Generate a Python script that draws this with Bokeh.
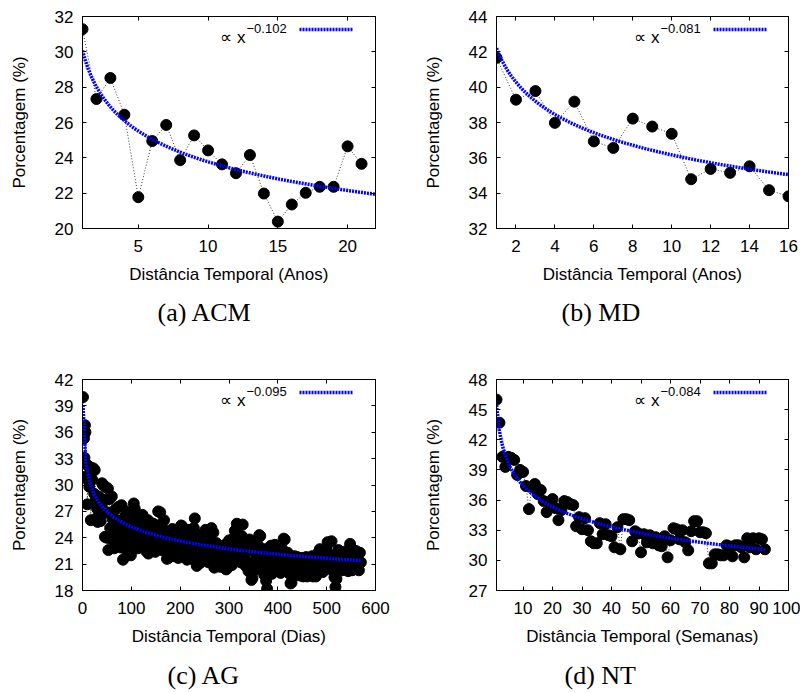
import numpy as np
from bokeh.plotting import figure
from bokeh.layouts import row, column
from bokeh.models import LinearAxis, FixedTicker, Label, Legend, LegendItem, Range1d, Title
from bokeh.core.properties import value
from bokeh.embed import file_html
from bokeh.resources import INLINE

# ---------------- data ----------------
# (a) ACM
acm_x = list(range(1, 22))
acm_pct = [31.28, 27.33, 28.52, 26.44, 21.77, 24.95, 25.86, 23.87, 25.27, 24.42,
           23.63, 23.13, 24.16, 21.98, 20.39, 21.36, 22.02, 22.36, 22.36, 24.65, 23.66]
acm_fit = (30.07, -0.102, 1, 22)          # coef, exponent (as drawn), x-start, x-end
acm_fit_label = "\u22120.102"
acm_xticks = [5, 10, 15, 20]
acm_yticks = [20, 22, 24, 26, 28, 30, 32]

# (b) MD
md_x = list(range(1, 17))
md_pct = [41.66, 39.29, 39.78, 37.98, 39.18, 36.93, 36.56, 38.22, 37.77, 37.36,
          34.79, 35.37, 35.15, 35.52, 34.17, 33.82]
md_fit = (42.2, -0.067, 1, 16)
md_fit_label = "\u22120.081"
md_xticks = [2, 4, 6, 8, 10, 12, 14, 16]
md_yticks = [32, 34, 36, 38, 40, 42, 44]

# (c) AG
ag_days = [1, 2, 3, 4, 5, 6, 7, 8, 9, 10,
           11, 13, 14, 16, 17, 18, 20, 22, 24, 25,
           27, 28, 30, 31, 33, 35, 37, 39, 40, 42,
           44, 46, 47, 49, 50, 52, 53, 55, 57, 58,
           60, 62, 63, 65, 67, 68, 70, 72, 73, 75,
           77, 78, 80, 82, 83, 85, 87, 88, 90, 92,
           94, 95, 97, 99, 100, 102, 104, 105, 107, 109,
           111, 113, 115, 117, 119, 121, 123, 124, 126, 128,
           130, 132, 134, 135, 137, 139, 141, 143, 145, 147,
           149, 151, 153, 155, 157, 159, 161, 163, 165, 167,
           169, 171, 173, 175, 176, 178, 180, 182, 184, 186,
           188, 190, 192, 194, 196, 198, 200, 202, 204, 206,
           208, 210, 212, 214, 216, 218, 220, 222, 224, 226,
           228, 230, 232, 234, 236, 238, 240, 242, 244, 246,
           248, 250, 252, 254, 256, 258, 260, 262, 264, 266,
           268, 270, 272, 274, 276, 278, 280, 282, 284, 286,
           288, 290, 292, 294, 296, 298, 300, 302, 304, 306,
           308, 310, 312, 314, 316, 318, 320, 322, 324, 326,
           328, 330, 332, 334, 336, 338, 340, 342, 344, 346,
           348, 350, 352, 354, 356, 358, 360, 362, 364, 366,
           368, 370, 372, 374, 376, 378, 380, 382, 384, 386,
           388, 390, 392, 394, 396, 398, 400, 402, 404, 406,
           408, 410, 412, 414, 416, 418, 420, 422, 424, 426,
           428, 430, 432, 434, 436, 438, 440, 442, 444, 446,
           448, 450, 452, 454, 456, 458, 460, 462, 464, 466,
           468, 470, 472, 474, 476, 478, 480, 482, 484, 486,
           488, 490, 492, 494, 496, 498, 500, 502, 504, 506,
           508, 510, 512, 514, 516, 518, 520, 522, 524, 526,
           528, 530, 532, 534, 536, 538, 540, 542, 544, 546,
           548, 550, 552, 554, 556, 558, 560, 562, 564, 566,
           568, 570]
ag_pct = [40.0, 35.6, 35.3, 33.1, 36.8, 36.0, 32.4, 31.0, 30.9, 27.8,
          32.2, 30.4, 29.8, 32.0, 26.0, 31.7, 30.6, 31.9, 29.0, 31.7,
          28.2, 26.2, 27.3, 25.8, 28.7, 26.5, 25.9, 27.5, 30.2, 30.0,
          28.3, 24.1, 29.8, 26.9, 24.0, 29.6, 22.6, 28.4, 25.1, 23.9,
          28.7, 26.1, 24.7, 22.8, 27.2, 25.6, 26.0, 23.8, 27.5, 24.9,
          27.6, 22.9, 27.7, 25.3, 21.5, 23.4, 26.4, 24.3, 27.0, 22.3,
          25.6, 23.7, 26.8, 22.0, 24.8, 26.4, 23.3, 27.9, 27.3, 24.6,
          25.8, 22.8, 26.1, 24.0, 25.2, 23.0, 26.6, 24.4, 25.5, 23.6,
          22.5, 24.9, 26.0, 22.2, 23.7, 25.1, 22.9, 24.3, 25.6, 23.4,
          22.4, 24.8, 25.3, 27.0, 23.1, 26.9, 24.0, 22.6, 25.0, 26.0,
          23.6, 24.6, 21.6, 23.2, 21.7, 24.3, 23.7, 22.4, 25.0, 23.0,
          21.9, 24.2, 22.8, 23.9, 21.7, 24.7, 22.5, 25.4, 25.3, 23.1,
          21.8, 24.1, 22.9, 21.5, 23.6, 24.9, 22.2, 23.4, 21.6, 24.0,
          25.1, 26.2, 24.5, 20.8, 22.7, 23.8, 21.1, 22.3, 24.2, 21.4,
          23.3, 22.0, 24.9, 23.0, 24.8, 21.2, 22.6, 23.9, 25.1, 22.1,
          24.6, 20.6, 21.8, 23.4, 22.5, 20.9, 22.9, 20.7, 21.6, 23.0,
          21.2, 22.4, 23.2, 20.4, 20.5, 22.2, 23.7, 21.3, 22.8, 20.9,
          23.9, 22.1, 24.8, 21.5, 25.6, 23.0, 25.4, 22.6, 21.2, 24.2,
          25.5, 22.0, 23.5, 20.8, 21.4, 22.9, 20.2, 23.8, 21.0, 19.2,
          19.4, 22.5, 20.3, 23.4, 21.7, 20.6, 23.1, 24.3, 24.2, 22.0,
          20.4, 21.6, 19.8, 22.7, 19.1, 18.2, 20.5, 22.2, 21.0, 23.1,
          19.9, 22.6, 20.8, 23.2, 21.5, 22.2, 20.3, 23.0, 21.9, 20.0,
          22.8, 21.2, 23.9, 23.8, 21.4, 20.3, 22.3, 21.0, 19.9, 18.8,
          18.9, 21.6, 20.2, 21.9, 20.8, 19.8, 21.8, 20.4, 21.3, 19.7,
          20.9, 21.7, 19.6, 19.7, 20.6, 21.8, 19.6, 20.2, 21.5, 19.7,
          20.8, 21.9, 19.6, 20.4, 21.2, 19.6, 19.9, 21.0, 22.4, 22.7,
          20.5, 21.6, 20.1, 22.3, 21.0, 20.4, 22.6, 23.5, 23.4, 21.3,
          20.7, 23.6, 21.9, 20.2, 19.5, 18.4, 19.3, 21.4, 22.6, 20.6,
          22.0, 21.2, 20.3, 22.4, 21.5, 20.6, 22.1, 21.0, 20.2, 22.7,
          23.3, 21.6, 20.3, 22.3, 20.4, 21.8, 22.5, 20.8, 21.4, 20.3,
          22.3, 21.2]
ag_fit = (39.1, -0.095, 1, 570)
ag_fit_label = "\u22120.095"
ag_xticks = [0, 100, 200, 300, 400, 500, 600]
ag_yticks = [18, 21, 24, 27, 30, 33, 36, 39, 42]

# (d) NT
nt_x = list(range(1, 93))
nt_pct = [46.0, 43.7, 40.3, 39.3, 40.3, 40.2, 40.0, 38.5, 39.0, 38.8,
          37.4, 35.1, 37.3, 37.6, 36.6, 37.0, 35.9, 34.8, 35.7, 36.1,
          35.2, 34.0, 35.0, 35.9, 35.8, 35.6, 35.5, 33.4, 34.3, 33.1,
          34.2, 33.0, 31.9, 31.7, 31.7, 33.7, 32.6, 33.6, 32.5, 32.4,
          31.3, 33.3, 31.1, 34.1, 34.1, 34.0, 31.9, 32.9, 32.7, 30.8,
          32.6, 31.8, 32.5, 31.7, 32.3, 31.5, 31.4, 32.4, 30.3, 32.0,
          33.2, 33.1, 32.1, 33.0, 31.8, 31.0, 32.9, 33.9, 33.9, 32.8,
          32.8, 32.7, 29.7, 29.7, 30.6, 30.6, 30.5, 30.5, 31.5, 31.4,
          30.4, 31.5, 31.5, 31.3, 30.3, 32.2, 31.3, 32.2, 31.1, 32.2,
          32.1, 31.1]
nt_fit = (45.44, -0.084, 1, 92)
nt_fit_label = "\u22120.084"
nt_xticks = [10, 20, 30, 40, 50, 60, 70, 80, 90, 100]
nt_yticks = [27, 30, 33, 36, 39, 42, 45, 48]

y_label = "Porcentagem (%)"

# ---------------- styling ----------------
SANS = "Liberation Sans"
SERIF = "Liberation Serif"
TXT = "17px"
FIT_COLOR = "#0000ff"


def style_axis(ax, ticks, labels=True):
    ax.ticker = FixedTicker(ticks=ticks)
    ax.major_tick_in = 4
    ax.major_tick_out = 0
    ax.minor_tick_line_color = None
    ax.axis_line_color = "black"
    ax.major_tick_line_color = "black"
    ax.major_label_text_font = SANS
    ax.axis_label_text_font = SANS
    ax.axis_label_text_font_size = TXT
    ax.axis_label_text_font_style = "normal"
    ax.axis_label_text_color = "black"
    if labels:
        ax.major_label_text_font_size = TXT
        ax.major_label_text_color = "black"
    else:
        ax.major_label_text_font_size = "1px"
        ax.major_label_text_color = None
        ax.major_label_standoff = 0


def panel(xs, ys, fit, fit_label, xr, yr, xticks, yticks, xlabel, caption,
          left, right, top, bottom, fw, fh, cap_offset, cap_standoff):
    p = figure(frame_width=fw, frame_height=fh,
               min_border_left=left, min_border_right=right,
               min_border_top=top, min_border_bottom=bottom,
               x_range=Range1d(*xr), y_range=Range1d(*yr),
               x_axis_label=xlabel, y_axis_label=y_label,
               output_backend="svg", toolbar_location=None,
               background_fill_color="white", border_fill_color="white")
    p.xgrid.visible = False
    p.ygrid.visible = False
    p.outline_line_color = "black"
    p.outline_line_width = 1
    p.outline_line_alpha = 1

    style_axis(p.xaxis[0], xticks)
    style_axis(p.yaxis[0], yticks)
    p.xaxis[0].major_label_standoff = 11
    p.xaxis[0].axis_label_standoff = 10
    p.yaxis[0].major_label_standoff = 9
    p.yaxis[0].axis_label_standoff = 23

    top_ax = LinearAxis()
    style_axis(top_ax, xticks, labels=False)
    p.add_layout(top_ax, "above")
    right_ax = LinearAxis()
    style_axis(right_ax, yticks, labels=False)
    p.add_layout(right_ax, "right")

    # caption below the x-axis label
    p.add_layout(Title(text=caption, align="left", offset=cap_offset, standoff=cap_standoff,
                       text_font=SERIF, text_font_size="26px", text_font_style="normal",
                       text_color="black"), "below")

    # data: points joined by a thin dotted line
    p.line(xs, ys, line_color="black", line_width=0.8, line_dash="1 2")
    p.scatter(xs, ys, size=11, marker="circle", fill_color="black", line_color="black")

    # power-law fit
    coef, expo, x0, x1 = fit
    fx = np.linspace(x0, x1, 100)
    fy = coef * fx ** expo
    fr = p.line(fx, fy, line_color=FIT_COLOR, line_width=3.5, line_dash="2 1")

    leg = Legend(items=[LegendItem(label=value(" "), renderers=[fr])],
                 location=(217, fh - 16), glyph_width=54, glyph_height=6,
                 label_text_font_size="1px", label_standoff=0, label_width=0,
                 label_height=0, padding=0, margin=0, spacing=0,
                 border_line_color=None, background_fill_alpha=0)
    p.add_layout(leg)

    p.add_layout(Label(x=163, y=fh - 21, x_units="screen", y_units="screen",
                       text="\u221d x", text_align="right", text_baseline="alphabetic",
                       text_font=SANS, text_font_size=TXT, text_color="black"))
    p.add_layout(Label(x=164, y=fh - 11.5, x_units="screen", y_units="screen",
                       text=fit_label, text_align="left", text_baseline="alphabetic",
                       text_font=SANS, text_font_size="13px", text_color="black"))
    return p


pa = panel(acm_x, acm_pct, acm_fit, acm_fit_label, (1, 22), (20, 32), acm_xticks, acm_yticks,
           "Distância Temporal (Anos)", "(a) ACM", 82, 25, 16, 130, 293, 212, 75, 18)
pb = panel(md_x, md_pct, md_fit, md_fit_label, (1, 16), (32, 44), md_xticks, md_yticks,
           "Distância Temporal (Anos)", "(b) MD", 96, 12, 16, 130, 292, 212, 65, 18)
pc = panel(ag_days, ag_pct, ag_fit, ag_fit_label, (0, 600), (18, 42), ag_xticks, ag_yticks,
           "Distância Temporal (Dias)", "(c) AG", 82, 25, 21, 103, 293, 211, 85, 21)
pd_ = panel(nt_x, nt_pct, nt_fit, nt_fit_label, (1, 100), (27, 48), nt_xticks, nt_yticks,
            "Distância Temporal (Semanas)", "(d) NT", 96, 12, 21, 103, 292, 211, 68, 21)

layout = column(row(pa, pb), row(pc, pd_))

with open("out.html", "w") as f:
    f.write(file_html(layout, INLINE, title="chart"))
